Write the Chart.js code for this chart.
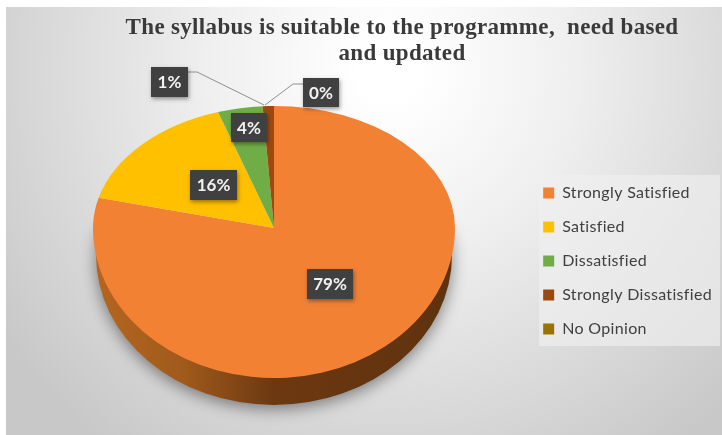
<!DOCTYPE html>
<html>
<head>
<meta charset="utf-8">
<title>Syllabus pie</title>
<script src="https://cdn.jsdelivr.net/npm/chart.js@4/dist/chart.umd.min.js"></script>
<style>
    html, body { margin: 0; padding: 0; background: #fff; }
    canvas { display: block; }
</style>
</head>
<body>
<canvas id="pie" width="722" height="435"></canvas>
<script>
// Data
const titleLines = ["The syllabus is suitable to the programme,  need based", "and updated"];
const categories = ["Strongly Satisfied", "Satisfied", "Dissatisfied", "Strongly Dissatisfied", "No Opinion"];
const percents = [79, 16, 4, 1, 0];
const colors = ["#f28133", "#ffc000", "#70ad47", "#9e480e", "#997300"];

// Look of the tilted pie
const face = { x: 274, y: 228, rx: 181, ryTop: 122, ryBottom: 150, depth: 27 };

// Data label boxes: [left, top, width, height], same order as categories
const labelBoxes = [
    [307, 269, 46, 30],
    [190, 170, 47, 30],
    [231, 113, 36, 29],
    [151, 67, 37, 30],
    [303, 78, 36, 29]
];
// Leader lines for the two thin slices
const leaders = [
    [[188, 72], [197, 72], [264, 105]],
    [[303, 84], [293, 84], [265, 105]]
];

function drawFace(chart, top) {
    const ctx = chart.ctx;
    const arc = chart.getDatasetMeta(0).data[0];
    const r = arc.outerRadius;
    const ry = top ? face.ryTop : face.ryBottom;
    ctx.save();
    ctx.beginPath();
    if (top) ctx.rect(0, 0, chart.width, face.y);
    else ctx.rect(0, face.y, chart.width, chart.height - face.y);
    ctx.clip();
    ctx.translate(face.x, face.y);
    ctx.scale(face.rx / r, ry / r);
    ctx.translate(-arc.x, -arc.y);
}

const tiltedPie = {
    id: "tiltedPie",
    beforeLayout(chart) {
        // Title and legend text in the reference is slightly spaced out
        chart.ctx.letterSpacing = "0.33px";
    },
    beforeDraw(chart) {
        const ctx = chart.ctx;
        // Grey background, lightest near the top middle
        const bg = ctx.createRadialGradient(390, 70, 30, 390, 70, 470);
        bg.addColorStop(0, "#ffffff");
        bg.addColorStop(0.35, "#efefef");
        bg.addColorStop(1, "#c8c8c8");
        ctx.fillStyle = bg;
        ctx.fillRect(6, 7, chart.width - 6, chart.height - 7);

        // Legend panel
        ctx.fillStyle = "rgba(240,240,240,0.65)";
        ctx.fillRect(539, 175, 181, 171);
    },
    beforeDatasetsDraw(chart) {
        const ctx = chart.ctx;
        const bottomY = face.y + face.depth;
        // Side wall of the pie, with its soft shadow
        const wall = ctx.createLinearGradient(face.x - face.rx, 0, face.x + face.rx, 0);
        wall.addColorStop(0, "#b5661f");
        wall.addColorStop(0.25, "#a05a1c");
        wall.addColorStop(0.5, "#6c3811");
        wall.addColorStop(1, "#5e320e");
        ctx.save();
        ctx.shadowColor = "rgba(0,0,0,0.45)";
        ctx.shadowBlur = 16;
        ctx.shadowOffsetY = 4;
        ctx.fillStyle = wall;
        ctx.beginPath();
        ctx.ellipse(face.x, bottomY, face.rx - 3, face.ryBottom, 0, 0, Math.PI);
        ctx.lineTo(face.x - face.rx + 6, face.y);
        ctx.lineTo(face.x + face.rx - 6, face.y);
        ctx.closePath();
        ctx.fill();
        ctx.restore();
        drawFace(chart, true);
    },
    afterDatasetsDraw(chart) {
        const ctx = chart.ctx;
        ctx.restore();
        // Lower half of the face, same arcs with a taller scale
        drawFace(chart, false);
        chart.getDatasetMeta(0).controller.draw();
        ctx.restore();
    },
    afterDraw(chart) {
        const ctx = chart.ctx;
        ctx.save();
        ctx.letterSpacing = "0px";
        ctx.strokeStyle = "#8f8f8f";
        ctx.lineWidth = 1;
        leaders.forEach(pts => {
            ctx.beginPath();
            pts.forEach((p, i) => i ? ctx.lineTo(p[0], p[1]) : ctx.moveTo(p[0], p[1]));
            ctx.stroke();
        });
        ctx.textAlign = "center";
        ctx.textBaseline = "middle";
        ctx.font = "bold 17px Lato";
        labelBoxes.forEach((b, i) => {
            ctx.save();
            ctx.shadowColor = "rgba(0,0,0,0.4)";
            ctx.shadowBlur = 4;
            ctx.shadowOffsetX = 1;
            ctx.shadowOffsetY = 2;
            ctx.fillStyle = "#404040";
            ctx.fillRect(b[0], b[1], b[2], b[3]);
            ctx.restore();
            ctx.fillStyle = "#f2f2f2";
            ctx.fillText(percents[i] + "%", b[0] + b[2] / 2, b[1] + b[3] / 2 + 1);
        });
        ctx.restore();
    }
};

new Chart(document.getElementById("pie"), {
    type: "pie",
    data: {
        labels: categories,
        datasets: [{
            data: percents,
            backgroundColor: colors,
            borderWidth: 0,
            clip: false
        }]
    },
    options: {
        responsive: false,
        animation: false,
        layout: { padding: { left: 82, right: 0, top: 15, bottom: 80 } },
        plugins: {
            tooltip: { enabled: false },
            title: {
                display: true,
                text: titleLines,
                color: "#3a3a3a",
                font: { family: "'Liberation Serif'", size: 23, weight: "bold", lineHeight: 1.13 },
                padding: { top: 0, bottom: 10 }
            },
            legend: {
                position: "right",
                align: "end",
                labels: {
                    color: "#404040",
                    font: { family: "Lato", size: 16 },
                    boxWidth: 11,
                    boxHeight: 11,
                    padding: 18
                }
            }
        }
    },
    plugins: [tiltedPie]
});
</script>
</body>
</html>
